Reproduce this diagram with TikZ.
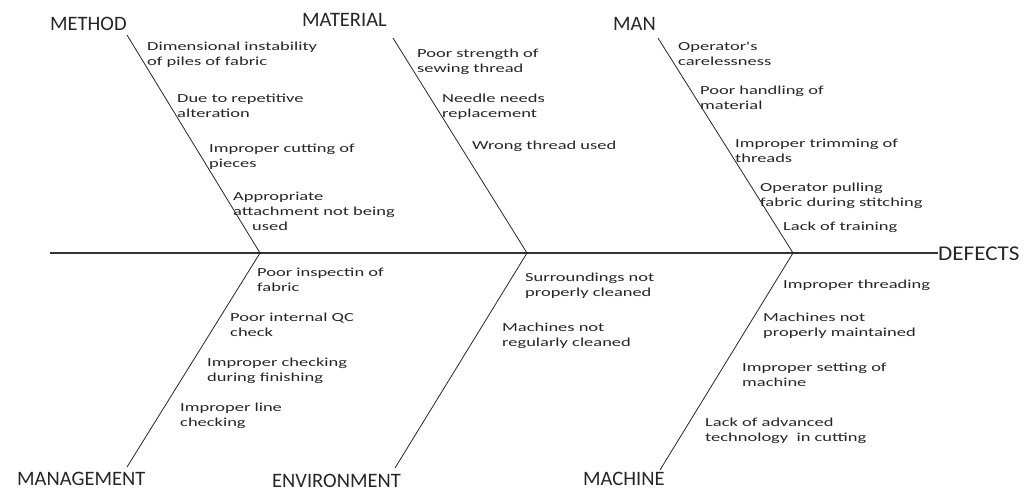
\documentclass[tikz,border=0pt]{standalone}
\usepackage{fontspec}
\newfontfamily\headfont{Carlito}
\newfontfamily\effectfont[FakeStretch=1.1]{Carlito}
\newfontfamily\causefont[FakeStretch=1.5]{Carlito}
\begin{document}
\begin{tikzpicture}[x=1pt,y=-1pt,
  bone/.style={draw=black!85,line width=0.8pt},
  spine/.style={draw=black!80,line width=1.1pt},
  category/.style={anchor=base west,inner sep=0pt,text=black!85,
    font=\headfont\fontsize{20.5}{24}\selectfont},
  effect/.style={anchor=base west,inner sep=0pt,text=black!85,
    font=\effectfont\fontsize{21}{24}\selectfont},
  % cause labels are placed by the baseline of their last line
  cause/.style={anchor=base west,inner sep=0pt,align=left,text=black!85,
    font=\causefont\fontsize{12.3}{15}\selectfont}]
\useasboundingbox (0,0) rectangle (1025,491);

% category headings and effect
\node[category] (method) at (50,30) {METHOD};
\node[category] (material) at (302,26) {MATERIAL};
\node[category] (man) at (613,30) {MAN};
\node[category] (management) at (17,485) {MANAGEMENT};
\node[category] (environment) at (272,487) {ENVIRONMENT};
\node[category] (machine) at (583,485) {MACHINE};
\node[effect] (defects) at (938,260) {DEFECTS};

% spine and junctions
\coordinate (tail) at (50,253);
\coordinate (j1) at (260,253);
\coordinate (j2) at (527,253);
\coordinate (j3) at (793,253);
\draw[spine] (tail) -- (tail -| defects.west);

% bone ends
\coordinate (mt) at (127,35);
\coordinate (mat) at (393,38);
\coordinate (mn) at (658,38);
\coordinate (mg) at (127,467);
\coordinate (en) at (395,468);
\coordinate (mc) at (660,470);
\draw[bone] (mt) -- (j1);
\draw[bone] (mat) -- (j2);
\draw[bone] (mn) -- (j3);
\draw[bone] (mg) -- (j1);
\draw[bone] (en) -- (j2);
\draw[bone] (mc) -- (j3);

% method causes
\node[cause] (c11) at (147,65) {Dimensional instability\\of piles of fabric};
\node[cause] (c12) at (177,117) {Due to repetitive\\alteration};
\node[cause] (c13) at (209,167) {Improper cutting of\\pieces};
\node[cause] (c14) at (233,230) {Appropriate\\attachment not being\\\hspace*{19pt}used};

% material causes
\node[cause] (c21) at (417,72) {Poor strength of\\sewing thread};
\node[cause] (c22) at (442,117) {Needle needs\\replacement};
\node[cause] (c23) at (472,149) {Wrong thread used};

% man causes
\node[cause] (c31) at (678,65) {Operator's\\carelessness};
\node[cause] (c32) at (700,109) {Poor handling of\\material};
\node[cause] (c33) at (735,162) {Improper trimming of\\threads};
\node[cause] (c34) at (760,206) {Operator pulling\\fabric during stitching};
\node[cause] (c35) at (783,230) {Lack of training};

% management causes
\node[cause] (c41) at (257,291) {Poor inspectin of\\fabric};
\node[cause] (c42) at (230,336) {Poor internal QC\\check};
\node[cause] (c43) at (207,381) {Improper checking\\during finishing};
\node[cause] (c44) at (180,426) {Improper line\\checking};

% environment causes
\node[cause] (c51) at (525,296) {Surroundings not\\properly cleaned};
\node[cause] (c52) at (502,346) {Machines not\\regularly cleaned};

% machine causes
\node[cause] (c61) at (783,288) {Improper threading};
\node[cause] (c62) at (763,336) {Machines not\\properly maintained};
\node[cause] (c63) at (742,386) {Improper setting of\\machine};
\node[cause] (c64) at (705,441) {Lack of advanced\\technology\ \ in cutting};
\end{tikzpicture}
\end{document}
